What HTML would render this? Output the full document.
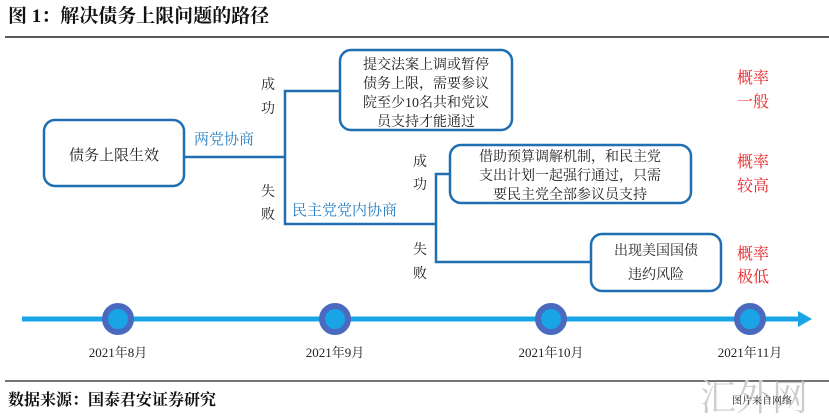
<!DOCTYPE html>
<html><head><meta charset="utf-8"><style>
html,body{margin:0;padding:0;background:#fff;width:829px;height:419px;overflow:hidden}
svg{display:block}
text{font-family:"Liberation Serif","Noto Serif CJK SC",serif}
</style></head><body>
<svg width="829" height="419" viewBox="0 0 829 419" xmlns="http://www.w3.org/2000/svg">
<text x="8" y="22" font-size="19" font-weight="bold" fill="#111">图 1：解决债务上限问题的路径</text>
<line x1="5" y1="37" x2="829" y2="37" stroke="#222" stroke-width="1.5"/>
<g fill="none" stroke="#1f6fb2" stroke-width="2.5">
<rect x="44" y="120" width="140" height="66" rx="11"/>
<rect x="340" y="50" width="172" height="80" rx="11"/>
<rect x="450" y="145" width="241" height="58" rx="11"/>
<rect x="591" y="234" width="130" height="57" rx="11"/>
<polyline points="184,157 285,157"/>
<polyline points="340,91 285,91 285,224 436,224"/>
<polyline points="450,174 436,174 436,262 591,262"/>
</g>
<g font-size="14" fill="#222" text-anchor="middle">
<text x="114" y="160" font-size="15">债务上限生效</text>
<text x="426" y="69">提交法案上调或暂停</text>
<text x="426" y="88">债务上限，需要参议</text>
<text x="426" y="107">院至少10名共和党议</text>
<text x="426" y="126">员支持才能通过</text>
<text x="570" y="161">借助预算调解机制，和民主党</text>
<text x="570" y="180">支出计划一起强行通过，只需</text>
<text x="570" y="199">要民主党全部参议员支持</text>
<text x="656" y="255">出现美国国债</text>
<text x="656" y="279">违约风险</text>
<text x="268" y="89">成</text><text x="268" y="113">功</text>
<text x="268" y="196">失</text><text x="268" y="219">败</text>
<text x="420" y="166">成</text><text x="420" y="189">功</text>
<text x="420" y="254">失</text><text x="420" y="278">败</text>
</g>
<g font-size="15" fill="#2a7fc0">
<text x="194" y="144">两党协商</text>
<text x="292" y="215">民主党党内协商</text>
</g>
<g font-size="16" fill="#e8262a">
<text x="737" y="83">概率</text><text x="737" y="107">一般</text>
<text x="737" y="167">概率</text><text x="737" y="191">较高</text>
<text x="737" y="259">概率</text><text x="737" y="282">极低</text>
</g>
<line x1="22" y1="319" x2="800" y2="319" stroke="#19a4e6" stroke-width="5"/>
<polygon points="798,311 812,319 798,327" fill="#19a4e6"/>
<g fill="#19a4e6" stroke="#4a6ac0" stroke-width="6">
<circle cx="118" cy="319" r="13"/><circle cx="335" cy="319" r="13"/>
<circle cx="551" cy="319" r="13"/><circle cx="750" cy="319" r="13"/>
</g>
<g font-size="13" fill="#222" text-anchor="middle">
<text x="118" y="357">2021年8月</text><text x="335" y="357">2021年9月</text>
<text x="551" y="357">2021年10月</text><text x="750" y="357">2021年11月</text>
</g>
<line x1="5" y1="381" x2="829" y2="381" stroke="#222" stroke-width="1.2"/>
<text x="8" y="405" font-size="16" font-weight="bold" fill="#111">数据来源：国泰君安证券研究</text>
<text x="700" y="410" font-size="36" fill="#ccc">汇外网</text>
<text x="732" y="404" font-size="10" fill="#222" font-family="Liberation Sans,Noto Sans CJK SC,sans-serif">图片来自网络</text>
</svg>
</body></html>
